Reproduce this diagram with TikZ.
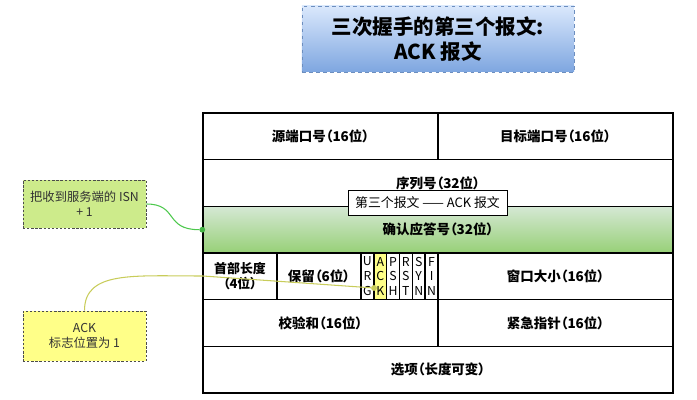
\documentclass[tikz,border=0pt]{standalone}
\usepackage{fontspec}
\setmainfont[RawFeature=+palt]{Noto Sans CJK SC}
\usetikzlibrary{arrows.meta, positioning}

\definecolor{titletop}{HTML}{DAE8FC}
\definecolor{titlebot}{HTML}{7EA6E0}
\definecolor{titleline}{HTML}{6C8EBF}
\definecolor{rowtop}{HTML}{D5E8D4}
\definecolor{rowbot}{HTML}{97D077}
\definecolor{notegreen}{HTML}{CDEB8B}
\definecolor{noteyellow}{HTML}{FFFF88}
\definecolor{linkgreen}{HTML}{4CC84C}
\definecolor{linkyellow}{HTML}{C8CC5A}

\begin{document}
\begin{tikzpicture}[
  x=0.03cm, y=-0.03cm,
  cell/.style={draw, line width=1.2pt, minimum height=1.4cm, inner sep=0pt, align=center, font=\bfseries\fontsize{11.5}{13.5}\selectfont},
  half/.style={cell, minimum width=7.05cm},
  full/.style={cell, minimum width=14.1cm},
  flag/.style={cell, minimum width=0.385cm, font=\fontsize{10.5}{12.6}\selectfont},
  note/.style={draw=black!70, dash pattern=on 2pt off 1.5pt, line width=0.6pt, minimum width=3.69cm, align=center, text=black!80, font=\fontsize{10.5}{13}\selectfont},
  link/.style={line width=0.9pt},
  dot/.style={circle, inner sep=0pt, minimum size=5pt}
]
\useasboundingbox (0,0) rectangle (697,400);

% title
\node[draw=titleline, dashed, line width=0.8pt, top color=titletop, bottom color=titlebot,
  minimum width=8.16cm, minimum height=1.98cm, align=center,
  font=\bfseries\fontsize{17.5}{21}\selectfont] (title) at (438,39) {三次握手的第三个报文:\\ACK 报文};

% header rows
\node[half] (srcport) at (320.5,136.3) {源端口号（16位）};
\node[half] (dstport) at (555.5,136.3) {目标端口号（16位）};
\node[full] (seqnum) at (438,183) {序列号（32位）};
\node[full, top color=rowtop, bottom color=rowbot, draw=black] (acknum) at (438,229.7) {确认应答号（32位）};
\node[cell, minimum width=2.22cm, font=\bfseries\fontsize{11}{13}\selectfont] (hdrlen) at (240,276.3) {首部长度\\（4位）};
\node[cell, minimum width=2.52cm] (reserved) at (319,276.3) {保留（6位）};
\foreach \a/\b/\c [count=\i] in {U/R/G, A/C/K, P/S/H, R/S/T, S/Y/N, F/I/N}
  \node[flag] (flag\i) at (354.58+12.83*\i,276.3) {\a\\\b\\\c};
\node[flag, fill=noteyellow] (flag2) at (380.24,276.3) {A\\C\\K};
\node[half] (window) at (555.5,276.3) {窗口大小（16位）};
\node[half] (checksum) at (320.5,323) {校验和（16位）};
\node[half] (urgent) at (555.5,323) {紧急指针（16位）};
\node[full] (options) at (438,369.7) {选项（长度可变）};

% notes
\node[note, fill=notegreen, minimum height=1.44cm] (isnnote) at (84.5,204) {把收到服务端的 ISN\\+ 1};
\node[note, fill=noteyellow, minimum height=1.5cm] (acknote) at (84.5,336) {ACK\\标志位置为 1};

% connectors
\node[dot, fill=linkgreen!90!black] (ackdot) at (acknum.west) {};
\node[dot, fill=linkyellow] (flagdot) at (374,288) {};
\coordinate (entry) at (203,276);
\draw[link, linkgreen] (isnnote.east) .. controls +(32,0) and +(-38,0) .. (ackdot);
\draw[link, linkyellow] (acknote.north) .. controls +(0,-40) and +(-70,0) .. (entry) -- (flagdot);

\node[draw, fill=white, line width=0.5pt, minimum width=4.77cm, minimum height=0.75cm,
  font=\fontsize{11}{13}\selectfont] (acklabel) at (427.5,203) {第三个报文 —— ACK 报文};
\end{tikzpicture}
\end{document}
